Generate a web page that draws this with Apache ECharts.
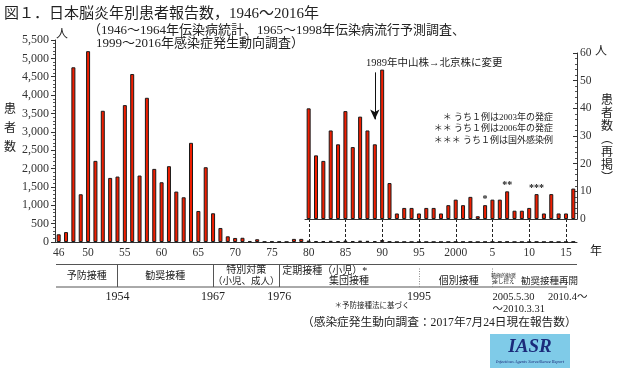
<!DOCTYPE html>
<html><head><meta charset="utf-8">
<script src="https://cdn.jsdelivr.net/npm/echarts@6/dist/echarts.min.js"></script>
<style>html,body{margin:0;padding:0;background:#fff}#c{width:620px;height:372px}</style>
</head><body><div id="c"></div>
<script>
// ---- data ----
const firstYear = 1946, lastYear = 2016;
const years = [];
for (let y = firstYear; y <= lastYear; y++) years.push(String(y));
const cases = [
  210, 270, 4757, 1300, 5196, 2209, 3573, 1745, 1782, 3727,
  4573, 1809, 3927, 1991, 1627, 2064, 1373, 1218, 2700, 845,
  2036, 782, 382, 155, 110, 115, 28, 75, 10, 14,
  10, 6, 85, 85, 40, 23, 21, 32, 27, 39,
  26, 37, 32, 27, 54, 13, 2, 4, 4, 2,
  4, 4, 2, 5, 7, 5, 8, 1, 5, 7,
  7, 10, 3, 3, 4, 9, 2, 9, 2, 2,
  11
];
const insetStartYear = 1980;
const insetYears = years.slice(insetStartYear - firstYear);
const insetCases = cases.slice(insetStartYear - firstYear);
const insetMarks = { '2004': '*', '2007': '**', '2011': '***' };
const xLabelYears = [1946, 1950, 1955, 1960, 1965, 1970, 1975, 1980, 1985, 1990, 1995, 2000, 2005, 2010, 2015];
const xLabelText  = ['46', '50', '55', '60', '65', '70', '75', '80', '85', '90', '95', '2000', '5', '10', '15'];
const connectorYears = ['1980', '1985', '1990', '1995', '2000', '2005', '2010', '2015'];
const leftMax = 5500, leftStep = 500, rightMax = 60, rightStep = 10;
const arrowYear = '1989', arrowFrom = 53, arrowTo = 36;

// ---- style ----
const SERIF = "'Liberation Serif','DejaVu Serif','Noto Sans CJK JP',serif";
const JP = "'Liberation Serif','Noto Sans CJK JP',serif";
const INK = '#222';
const BAR = { color: '#f01e00', borderColor: '#1a1a1a', borderWidth: 1 };

const L = 55, W = 522, T = 40, H = 202;
const band = W / years.length;
const insetLeft = L + (insetStartYear - firstYear) * band;

const chart = echarts.init(document.getElementById('c'), null, { renderer: 'canvas' });
chart.setOption({
  animation: false,
  backgroundColor: '#fff',
  grid: [
    { left: L, top: T, width: W, height: H },
    { left: insetLeft, top: 53, width: insetYears.length * band, height: 166 }
  ],
  xAxis: [
    {
      gridIndex: 0, type: 'category', data: years,
      axisLine: { lineStyle: { color: '#333', width: 1 } },
      axisTick: { interval: 0, length: 4, lineStyle: { color: '#333' } },
      axisLabel: {
        interval: (i, v) => xLabelYears.indexOf(Number(v)) >= 0,
        formatter: v => xLabelText[xLabelYears.indexOf(Number(v))] || '',
        fontFamily: SERIF, fontSize: 11.5, color: '#333', margin: 5
      }
    },
    {
      gridIndex: 1, type: 'category', data: insetYears,
      axisLine: { lineStyle: { color: '#333', width: 1 } },
      axisTick: { interval: 0, length: 4, lineStyle: { color: '#333' } },
      axisLabel: { show: false }
    }
  ],
  yAxis: [
    {
      gridIndex: 0, type: 'value', min: 0, max: leftMax, interval: leftStep,
      axisLine: { show: true, lineStyle: { color: '#333' } },
      axisTick: { show: true, length: 4, lineStyle: { color: '#333' } },
      minorTick: { show: true, splitNumber: 5, length: 2, lineStyle: { color: '#555' } },
      splitLine: { show: false },
      axisLabel: {
        formatter: v => v.toLocaleString('en-US'),
        fontFamily: SERIF, fontSize: 12, color: '#333', margin: 6
      }
    },
    {
      gridIndex: 1, type: 'value', position: 'right', min: 0, max: rightMax, interval: rightStep,
      axisLine: { show: true, lineStyle: { color: '#333' } },
      axisTick: { show: true, inside: true, length: 4, lineStyle: { color: '#333' } },
      minorTick: { show: true, splitNumber: 5, length: 2, lineStyle: { color: '#555' } },
      splitLine: { show: false },
      axisLabel: { fontFamily: SERIF, fontSize: 11.5, color: '#333', margin: 3 }
    }
  ],
  series: [
    {
      type: 'bar', xAxisIndex: 0, yAxisIndex: 0, data: cases,
      barWidth: 4, itemStyle: BAR
    },
    {
      type: 'bar', xAxisIndex: 1, yAxisIndex: 1, data: insetCases,
      barWidth: 4, itemStyle: BAR,
      label: {
        show: true, position: 'top', distance: 1,
        formatter: p => insetMarks[p.name] || '',
        fontFamily: SERIF, fontSize: 10, color: INK, fontWeight: 'bold'
      },
      markLine: {
        silent: true, symbol: ['none', 'arrow'], symbolSize: [7, 10],
        lineStyle: { color: '#111', width: 1, type: 'solid' },
        label: { show: false },
        data: [[{ coord: [arrowYear, arrowFrom] }, { coord: [arrowYear, arrowTo] }]]
      }
    }
  ]
});

// ---- annotations positioned from the axes ----
const px = y => chart.convertToPixel({ xAxisIndex: 0 }, String(y));
const baseMain = chart.convertToPixel({ yAxisIndex: 0 }, 0);
const baseInset = chart.convertToPixel({ yAxisIndex: 1 }, 0);
const g = [];
const txt = (text, x, y, size, opt = {}) => g.push({
  type: 'text', silent: true,
  style: Object.assign({ text, x, y, fontSize: size, fontFamily: JP, fill: INK, align: 'center', verticalAlign: 'middle' }, opt)
});
const line = (x1, y1, x2, y2, opt = {}) => g.push({
  type: 'line', silent: true, shape: { x1, y1, x2, y2 },
  style: Object.assign({ stroke: '#333', lineWidth: 1 }, opt)
});

connectorYears.forEach(y => {
  const x = Math.round(px(y)) + 0.5;
  line(x, baseInset, x, baseMain, { stroke: '#222', lineDash: [3, 2] });
});

// titles
txt('図１．日本脳炎年別患者報告数，1946～2016年', 4, 14, 15, { align: 'left' });
txt('（1946～1964年伝染病統計、1965～1998年伝染病流行予測調査、', 88, 31, 13, { align: 'left' });
txt('1999～2016年感染症発生動向調査）', 96, 44, 13, { align: 'left' });

// axis units & names
txt('人', 62, 35, 12);
txt('人', 601, 52, 12);
txt('年', 596, 252, 12);
txt('患\n者\n数', 10, 129, 12, { lineHeight: 19 });
txt('患\n者\n数\n︵\n再\n掲\n︶', 607, 140, 12, { lineHeight: 13 });

// notes
txt('1989年中山株→北京株に変更', 366, 63, 10.5, { align: 'left' });
txt('＊ うち１例は2003年の発症', 553, 118, 9, { align: 'right' });
txt('＊＊ うち１例は2006年の発症', 553, 129, 9, { align: 'right' });
txt('＊＊＊ うち１例は国外感染例', 553, 141, 9, { align: 'right' });

// timeline table
const x54 = px(1954), x67 = px(1967), x76 = px(1976), x95 = px(1995), x05 = px(2005);
const tTop = 264.5, tBot = 287;
line(56, tTop, 577, tTop, { stroke: '#555' });
line(56, tBot, 567, tBot, { stroke: '#555' });
[x54, x67, x76].forEach(x => line(Math.round(x) + 0.5, tTop, Math.round(x) + 0.5, tBot, { stroke: '#555' }));
[x95, x05].forEach(x => line(Math.round(x) + 0.5, tTop + 4, Math.round(x) + 0.5, tBot, { stroke: '#888', lineDash: [1, 1.5] }));

txt('予防接種', (56 + x54) / 2, 276, 10);
txt('勧奨接種', (x54 + x67) / 2, 276, 10);
txt('特別対策', (x67 + x76) / 2, 270, 10);
txt('（小児、成人）', (x67 + x76) / 2, 281.5, 9.5);
txt('定期接種（小児）*', x76 + 3, 271, 10, { align: 'left' });
txt('集団接種', (x76 + x95) / 2, 281, 10);
txt('個別接種', (x95 + x05) / 2 + 3, 281, 10);
txt('積極的勧奨', x05 + 11, 275.5, 5);
txt('差し控え', x05 + 11, 281.5, 5.5);
txt('勧奨接種再開', 521, 281, 9.5, { align: 'left' });

txt('1954', x54, 297, 12, { fontFamily: SERIF });
txt('1967', x67, 297, 12, { fontFamily: SERIF });
txt('1976', x76, 297, 12, { fontFamily: SERIF });
txt('1995', x95, 297, 12, { fontFamily: SERIF });
txt('2005.5.30', x05, 297, 10.5, { align: 'left', fontFamily: SERIF });
txt('2010.4～', 548, 297, 10.5, { align: 'left' });
txt('～2010.3.31', x05, 309, 10.5, { align: 'left' });
txt('＊予防接種法に基づく', 372, 306, 7.5);
txt('（感染症発生動向調査：2017年7月24日現在報告数）', 302, 323, 11.7, { align: 'left' });

// IASR logo
g.push({ type: 'rect', silent: true, shape: { x: 490, y: 334, width: 80, height: 34 }, style: { fill: '#7fcbe8' } });
txt('IASR', 530, 347, 19, { fontFamily: SERIF, fontStyle: 'italic', fontWeight: 'bold', fill: '#1b2a7a' });
txt('Infectious Agents Surveillance Report', 530, 362, 4.5, { fontFamily: SERIF, fontStyle: 'italic', fill: '#1b2a7a' });

chart.setOption({ graphic: g });
</script>
</body></html>
